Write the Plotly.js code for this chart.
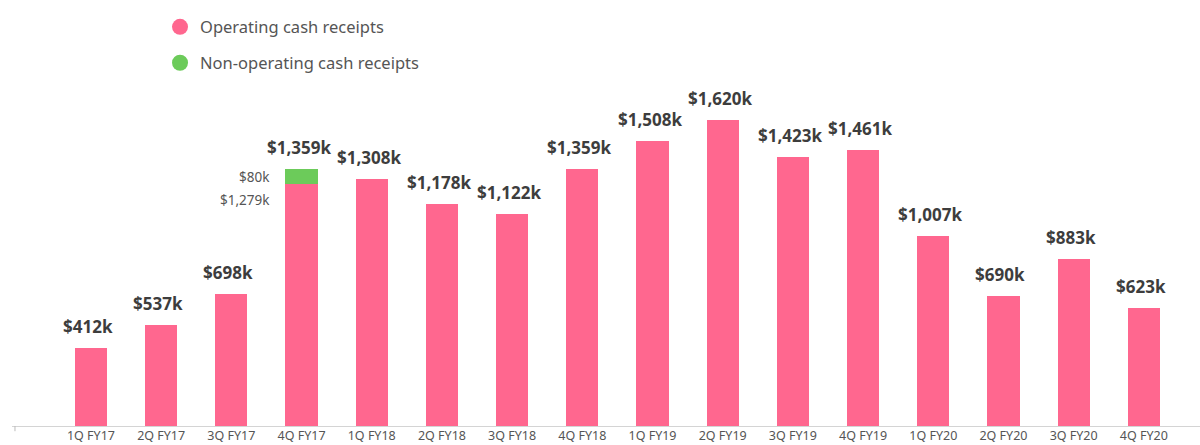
<!DOCTYPE html>
<html>
<head>
<meta charset="utf-8">
<script src="https://cdn.plot.ly/plotly-3.0.1.min.js"></script>
<style>html,body{margin:0;padding:0;background:#fff}#chart{width:1200px;height:445px}</style>
</head>
<body>
<div id="chart"></div>
<script>
const categories = ["1Q FY17","2Q FY17","3Q FY17","4Q FY17","1Q FY18","2Q FY18","3Q FY18","4Q FY18","1Q FY19","2Q FY19","3Q FY19","4Q FY19","1Q FY20","2Q FY20","3Q FY20","4Q FY20"];
const operating = [412, 537, 698, 1279, 1308, 1178, 1122, 1359, 1508, 1620, 1423, 1461, 1007, 690, 883, 623];
const nonOperating = [0, 0, 0, 80, 0, 0, 0, 0, 0, 0, 0, 0, 0, 0, 0, 0];

const PINK = "#FF678F";
const GREEN = "#6CCB5A";
const FONT = "Noto Sans, Open Sans, sans-serif";

const totals = operating.map((v, i) => v + nonOperating[i]);
const fmt = v => "$" + v.toLocaleString("en-US") + "k";

const traces = [
  {type: "bar", x: categories, y: operating, marker: {color: PINK}, showlegend: false, hoverinfo: "skip"},
  {type: "bar", x: categories, y: nonOperating, marker: {color: GREEN}, showlegend: false, hoverinfo: "skip"},
  {type: "scatter", mode: "markers", x: [null], y: [null], name: "Operating cash receipts",
   marker: {color: PINK, size: 16, symbol: "circle"}, legend: "legend"},
  {type: "scatter", mode: "markers", x: [null], y: [null], name: "Non-operating cash receipts",
   marker: {color: GREEN, size: 16, symbol: "circle"}, legend: "legend2"}
];

const annotations = totals.map((t, i) => ({
  x: categories[i], y: t, text: fmt(t), showarrow: false,
  xanchor: "center", yanchor: "bottom", yshift: 8, xshift: -3,
  font: {family: FONT, size: 17, color: "#3d3d3d", weight: "bold"}
}));

nonOperating.forEach((n, i) => {
  if (n > 0) {
    annotations.push({
      x: categories[i], y: operating[i] + n / 2, text: fmt(n), showarrow: false,
      xanchor: "right", yanchor: "middle", xshift: -30,
      font: {family: FONT, size: 13.5, color: "#555"}
    });
    annotations.push({
      x: categories[i], y: operating[i], text: fmt(operating[i]), showarrow: false,
      xanchor: "right", yanchor: "middle", xshift: -30, yshift: -16,
      font: {family: FONT, size: 13.5, color: "#555"}
    });
  }
});

const layout = {
  width: 1200, height: 445,
  margin: {l: 12, r: 0, t: 80, b: 19},
  paper_bgcolor: "#fff", plot_bgcolor: "#fff",
  barmode: "stack", bargap: 0.54,
  font: {family: FONT, color: "#555"},
  xaxis: {
    type: "category", range: [-1.125, 15.8], showgrid: false, zeroline: false,
    showline: true, linecolor: "#d4d4d4", linewidth: 1, ticks: "", ticklabelstandoff: -2,
    tickfont: {family: FONT, size: 12.5, color: "#555"}, fixedrange: true
  },
  yaxis: {range: [0, 1832], visible: false, showgrid: false, zeroline: false, fixedrange: true},
  legend: {x: 0.1246, y: 1.153, xanchor: "left", yanchor: "middle", bgcolor: "rgba(0,0,0,0)",
    font: {family: FONT, size: 16.5, color: "#555"}},
  legend2: {x: 0.1246, y: 1.049, xanchor: "left", yanchor: "middle", bgcolor: "rgba(0,0,0,0)",
    font: {family: FONT, size: 16.5, color: "#555"}},
  annotations: annotations,
  shapes: [{type: "line", xref: "paper", yref: "paper", x0: 0.0025, x1: 0.0025, y0: 0, y1: -0.015,
    line: {color: "#bbb", width: 1}}]
};

Plotly.newPlot("chart", traces, layout, {displayModeBar: false, staticPlot: true});
</script>
</body>
</html>
